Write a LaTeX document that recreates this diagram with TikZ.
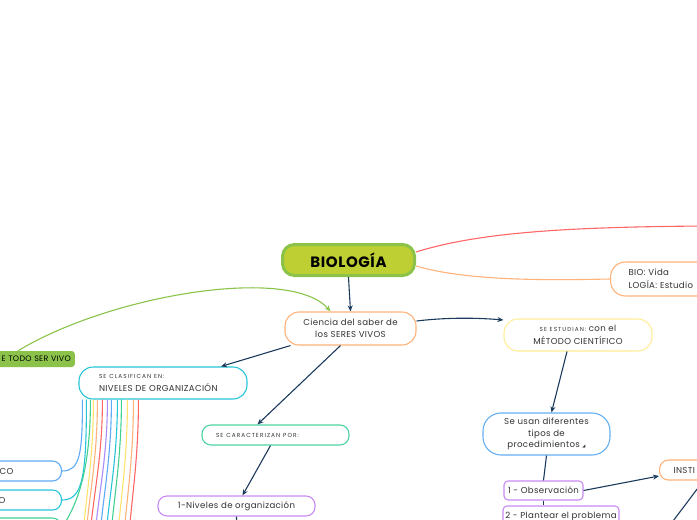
\documentclass[tikz,border=0pt]{standalone}
\usepackage{fontspec}
\setmainfont{Poppins}[LetterSpace=4]
\newfontfamily\tagfont{Poppins}[LetterSpace=18]
\newfontfamily\symfont{DejaVu Sans}
\usetikzlibrary{arrows.meta}
\definecolor{navy}{HTML}{1B3A5C}
\definecolor{biofill}{HTML}{BDCF32}
\definecolor{biogreen}{HTML}{8BC34A}
\definecolor{orangeb}{HTML}{FFB27A}
\definecolor{yellowb}{HTML}{FFEE99}
\definecolor{cyanb}{HTML}{26C6DA}
\definecolor{greenb}{HTML}{4DD4A0}
\definecolor{purpleb}{HTML}{C98AF5}
\definecolor{blueb}{HTML}{64B0F2}
\definecolor{redl}{HTML}{FF6666}
\definecolor{bluel}{HTML}{5EAAF7}
\definecolor{greenl}{HTML}{3FD18F}
\definecolor{yellowl}{HTML}{FFE36B}
\definecolor{purplel}{HTML}{A98BFA}
\newcommand\tagtxt[1]{{\tagfont\fontsize{5.8}{6}\selectfont #1}}

\begin{document}
\begin{tikzpicture}[x=1pt,y=-1pt,
  box/.style={draw, fill=white, line width=1.1pt, inner sep=0pt,
    font=\fontsize{8.6}{12.5}\selectfont, text=black!80, align=center},
  link/.style={navy, line width=1.1pt, -{Stealth[length=6pt,width=5pt]}},
  plain/.style={navy, line width=1.1pt},
  ray/.style={line width=1.1pt}]
  \useasboundingbox (0,0) rectangle (697,520);
  \clip (0,0) rectangle (697,520);

  % main topic
  \node[fill=biofill, draw=biogreen, line width=3pt, rounded corners=12pt,
    minimum width=132, minimum height=31, font=\fontsize{15}{16}\bfseries]
    (biologia) at (348.5,260) {BIOLOGÍA};

  \node[box, draw=orangeb, rounded corners=14pt, minimum width=131, minimum height=33]
    (ciencia) at (350.5,328.5) {Ciencia del saber de\\los SERES VIVOS};
  \node[box, draw=orangeb, rounded corners=15pt, minimum height=34, text width=80,
    inner xsep=18, align=left, anchor=west]
    (bio) at (610,279) {BIO: Vida\\LOGÍA: Estudio};
  \node[box, draw=yellowb, rounded corners=14pt, minimum width=148, minimum height=32]
    (metodo) at (578,335) {\tagtxt{SE ESTUDIAN:} con el\\MÉTODO CIENTÍFICO};
  \node[box, draw=cyanb, rounded corners=14pt, minimum height=32, inner xsep=20,
    text width=128, align=left]
    (niveles) at (163,383) {\tagtxt{SE CLASIFICAN EN:}\\NIVELES DE ORGANIZACIÓN};
  \node[box, draw=greenb, rounded corners=9pt, minimum height=20, inner xsep=14,
    text width=119, align=left]
    (caract) at (275.5,435) {\tagtxt{SE CARACTERIZAN POR:}};
  \node[box, draw=purpleb, rounded corners=9pt, minimum width=157, minimum height=20]
    (niv1) at (236.5,506) {1-Niveles de organización};
  \node[box, draw=blueb, rounded corners=18pt, minimum width=127, minimum height=42,
    font=\fontsize{8.6}{11.5}\selectfont]
    (usan) at (546.5,434) {Se usan diferentes\\tipos de\\procedimientos\ {\symfont\fontsize{4}{4}\selectfont ◢}};
  \node[box, draw=purpleb, rounded corners=4pt, minimum width=79, minimum height=19]
    (obs) at (543.5,490.5) {1 - Observación};
  \node[box, draw=purpleb, rounded corners=4pt, minimum width=116, minimum height=20]
    (plant) at (561,516) {2 - Plantear el problema};
  \node[box, draw=orangeb, rounded corners=9pt, minimum height=20, inner xsep=14,
    text width=60, align=left, anchor=west]
    (insti) at (659,470) {INSTI};

  % left side
  \node[fill=biogreen, rounded corners=3pt, minimum height=16, inner xsep=4,
    text width=71, align=right, anchor=east, font=\fontsize{7.9}{8}\selectfont]
    (todo) at (75,359) {E TODO SER VIVO};
  \node[box, draw=bluel, rounded corners=9pt, minimum height=20, inner xsep=48,
    text width=40, align=right, anchor=east]
    (eco) at (62,471) {CO};
  \node[box, draw=cyanb, rounded corners=9pt, minimum height=20, inner xsep=56,
    text width=40, align=right, anchor=east]
    (org) at (62,500) {O};
  \node[box, draw=greenl, rounded corners=9pt, minimum height=20, minimum width=100,
    anchor=east]
    (gnode) at (62,528) {};

  % connectors
  \coordinate (redend) at (705,226);
  \coordinate (instiend) at (655,545);
  \coordinate (nivend) at (237,545);
  \draw[redl, line width=1.1pt] (biologia.east |- 0,252) .. controls (480,232) and (570,227) .. (redend);
  \draw[orangeb, line width=1.1pt] (biologia.east |- 0,266) .. controls (470,282) and (560,280) .. (bio.west);
  \draw[link] (biologia.south) -- (ciencia.north);
  \draw[biogreen, line width=1.1pt, -{Stealth[length=6pt,width=5pt]}]
    ([xshift=-57pt]todo.north east) .. controls (110,295) and (290,265) .. ([xshift=-20pt]ciencia.north);
  \draw[link] (ciencia.east |- 0,321) .. controls (450,317) and (480,318) .. (metodo.west |- 0,320);
  \draw[link] ([xshift=-60pt]ciencia.south) -- ([xshift=58pt]niveles.north);
  \draw[link] ([xshift=-10pt]ciencia.south) -- ([xshift=-18pt]caract.north);
  \draw[link] ([xshift=-5pt]caract.south) -- ([xshift=6pt]niv1.north);
  \draw[plain] (niv1.south) -- (nivend);
  \draw[link] ([xshift=-11pt]metodo.south) -- ([xshift=5pt]usan.north);
  \draw[plain] (usan.south) -- (obs.north);
  \draw[plain] (obs.south) -- (obs.south |- plant.north);
  \draw[link] (obs.east) -- (insti.west |- 0,476);
  \draw[plain] (insti.south) -- (instiend);

  % rainbow branches
  \draw[bluel, ray] ([xshift=4pt]niveles.south west) .. controls +(0,55) and +(18,0) .. (eco.east);
  \draw[cyanb, ray] ([xshift=8pt]niveles.south west) .. controls +(0,80) and +(20,0) .. (org.east);
  \draw[greenl, ray] ([xshift=12pt]niveles.south west) .. controls +(0,80) and +(12,-20) .. (gnode.east);
  \foreach \i/\off/\bx/\col in {1/15/82/yellowl, 2/19/85/orangeb, 3/24/89/redl,
      4/29/94/purplel, 5/33/99/bluel, 6/39/105/cyanb, 7/43/110/greenl,
      8/49/117/yellowl, 9/55/123/orangeb, 10/60/128/redl} {
    \coordinate (ray\i) at (\bx,545);
    \draw[\col, ray] ([xshift=\off pt]niveles.south west) .. controls +(0,60) and +(4,-50) .. (ray\i);
  }
\end{tikzpicture}
\end{document}
